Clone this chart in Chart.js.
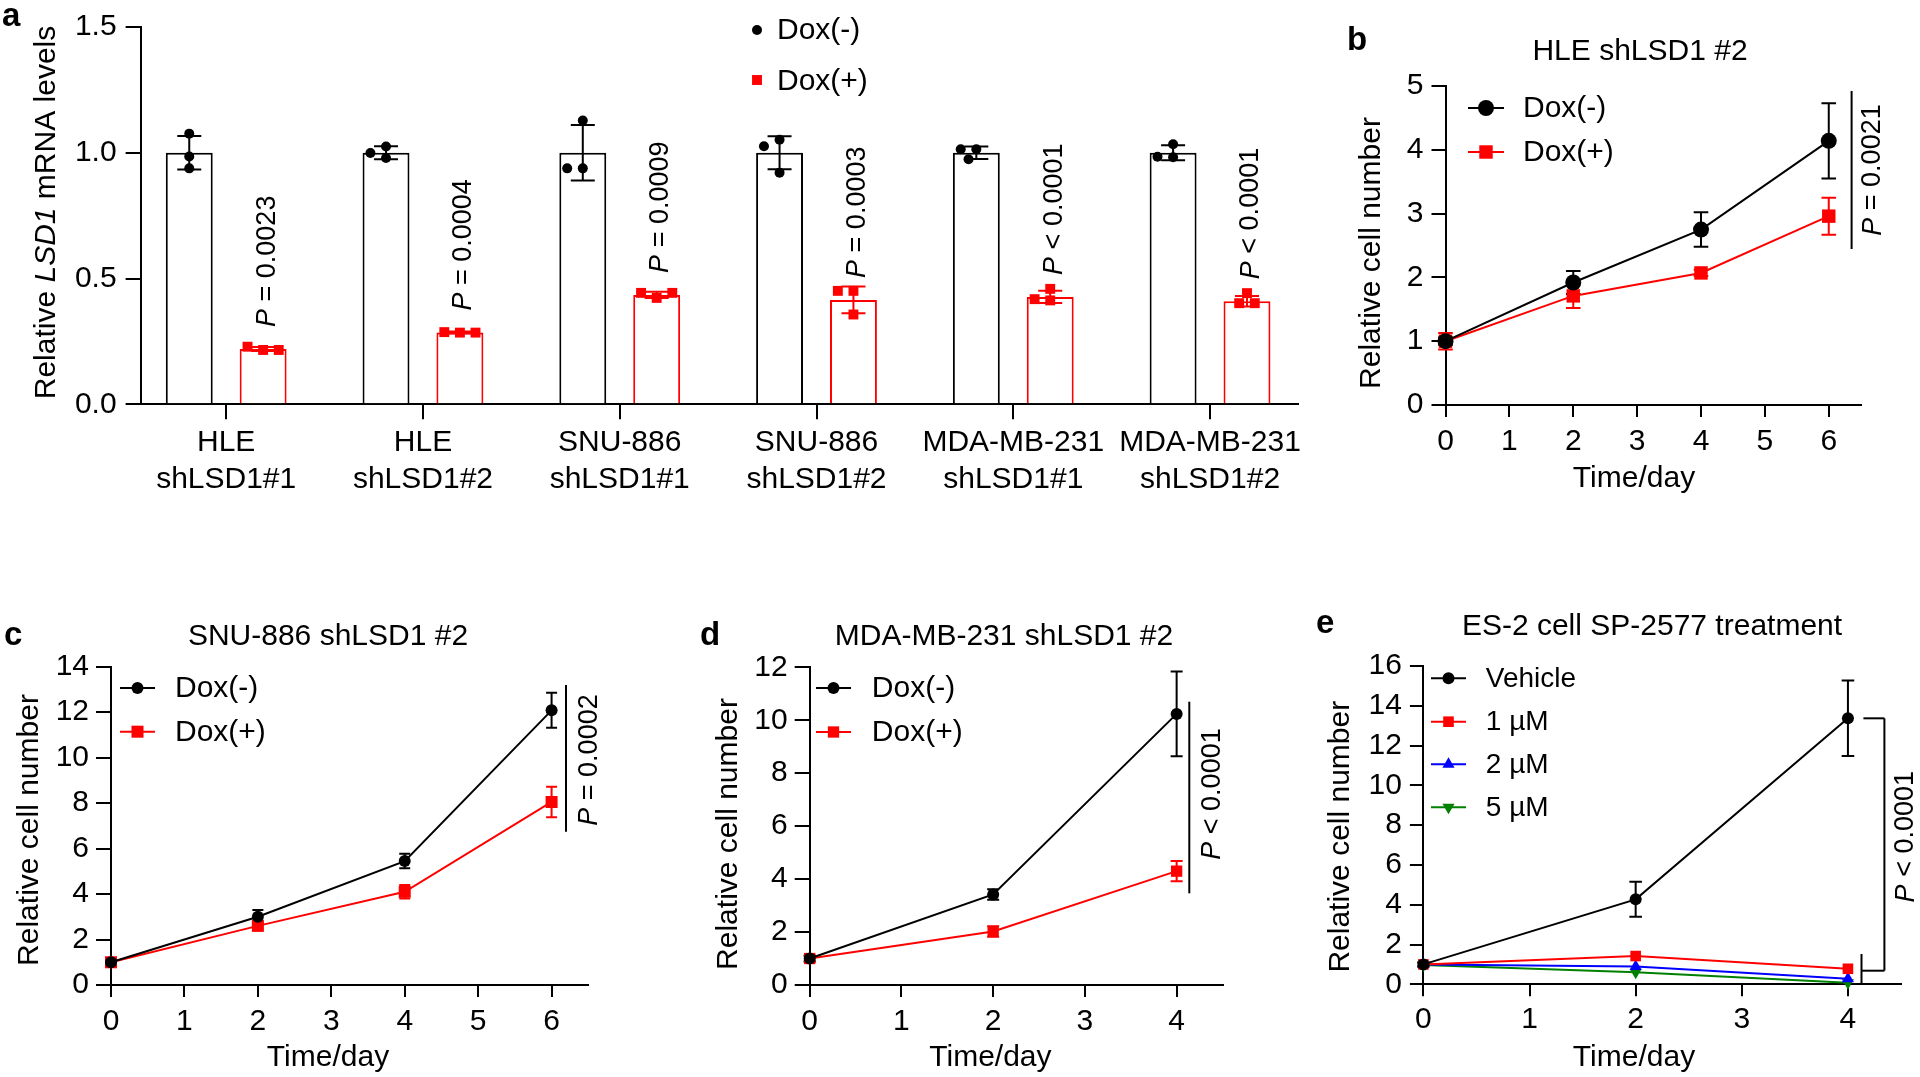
<!DOCTYPE html>
<html>
<head>
<meta charset="utf-8">
<title>LSD1 knockdown panels</title>
<script src="https://cdn.jsdelivr.net/npm/chart.js@4.4.1/dist/chart.umd.min.js"></script>
<style>
  html, body { margin: 0; padding: 0; background: #fff; }
  #page { position: relative; width: 1920px; height: 1077px; overflow: hidden; background: #fff; }
  #page canvas { position: absolute; }
</style>
</head>
<body>
<div id="page">
  <canvas id="chartA"></canvas>
  <canvas id="chartB"></canvas>
  <canvas id="chartC"></canvas>
  <canvas id="chartD"></canvas>
  <canvas id="chartE"></canvas>
</div>
<script>
const FONT = "'Liberation Sans', Arial, Helvetica, sans-serif";

// ---------- a: relative LSD1 mRNA ----------
const cellLines = [['HLE', 'shLSD1#1'], ['HLE', 'shLSD1#2'], ['SNU-886', 'shLSD1#1'],
                   ['SNU-886', 'shLSD1#2'], ['MDA-MB-231', 'shLSD1#1'], ['MDA-MB-231', 'shLSD1#2']];
const mrnaDoxNeg = [1.0, 1.0, 1.0, 1.0, 1.0, 1.0];
const mrnaDoxPos = [0.22, 0.285, 0.435, 0.415, 0.427, 0.41];
const mrnaSdNeg = [0.067, 0.026, 0.11, 0.066, 0.025, 0.03];
const mrnaSdPos = [0.008, 0.004, 0.012, 0.053, 0.024, 0.021];
const repsDoxNeg = [[1.076, 0.985, 0.938], [1.025, 0.979, 0.999], [1.128, 0.938, 0.938],
                    [1.052, 1.026, 0.921], [1.014, 1.014, 0.974], [1.034, 0.982, 0.984]];
const repsDoxPos = [[0.216, 0.229, 0.216], [0.285, 0.287, 0.285], [0.423, 0.443, 0.443],
                    [0.451, 0.451, 0.357], [0.459, 0.413, 0.418], [0.442, 0.402, 0.402]];
const mrnaP = ['= 0.0023', '= 0.0004', '= 0.0009', '= 0.0003', '< 0.0001', '< 0.0001'];

// ---------- b: HLE shLSD1 #2 ----------
const daysB = [0, 2, 4, 6];
const hleNeg = [1.0, 1.92, 2.75, 4.14];
const hleNegSd = [0.06, 0.18, 0.27, 0.59];
const hlePos = [1.0, 1.71, 2.07, 2.96];
const hlePosSd = [0.13, 0.19, 0.05, 0.29];

// ---------- c: SNU-886 shLSD1 #2 ----------
const daysC = [0, 2, 4, 6];
const snuNeg = [1.0, 3.0, 5.45, 12.08];
const snuNegSd = [0.15, 0.3, 0.32, 0.77];
const snuPos = [1.0, 2.6, 4.1, 8.05];
const snuPosSd = [0.1, 0.15, 0.3, 0.67];

// ---------- d: MDA-MB-231 shLSD1 #2 ----------
const daysD = [0, 2, 4];
const mdaNeg = [1.0, 3.42, 10.24];
const mdaNegSd = [0.1, 0.2, 1.6];
const mdaPos = [1.0, 2.02, 4.3];
const mdaPosSd = [0.12, 0.2, 0.38];

// ---------- e: ES-2 SP-2577 ----------
const daysE = [0, 2, 4];
const vehicle = [1.0, 4.27, 13.37];
const vehicleSd = [0.1, 0.88, 1.9];
const dose1 = [1.0, 1.42, 0.78];
const dose2 = [1.0, 0.9, 0.28];
const dose5 = [0.97, 0.6, 0.08];
const doseLabels = ['Vehicle', '1 µM', '2 µM', '5 µM'];

Chart.defaults.font.family = FONT;
Chart.defaults.font.size = 30;
Chart.defaults.color = '#000';

// ---------- helpers ----------
function placeCanvas(id, box) {
  const c = document.getElementById(id);
  c.width = box.w; c.height = box.h;
  c.style.left = box.left + 'px'; c.style.top = box.top + 'px';
  c.style.width = box.w + 'px'; c.style.height = box.h + 'px';
  return c;
}

function drawText(ctx, parts, x, y, o) {
  o = o || {};
  const size = o.size || 30;
  ctx.save();
  ctx.translate(x, y);
  if (o.rotate) ctx.rotate(-Math.PI / 2);
  ctx.fillStyle = '#000';
  ctx.textBaseline = o.baseline || 'alphabetic';
  ctx.textAlign = 'left';
  const fonts = parts.map(p => (p[1] ? 'italic ' : '') + (o.bold ? 'bold ' : '') + size + 'px ' + FONT);
  const widths = parts.map((p, i) => { ctx.font = fonts[i]; return ctx.measureText(p[0]).width; });
  const total = widths.reduce((s, w) => s + w, 0);
  let cx = o.align === 'center' ? -total / 2 : (o.align === 'right' ? -total : 0);
  parts.forEach((p, i) => { ctx.font = fonts[i]; ctx.fillText(p[0], cx, 0); cx += widths[i]; });
  ctx.restore();
}

function seg(ctx, x1, y1, x2, y2, color, w) {
  ctx.save();
  ctx.strokeStyle = color || '#000';
  ctx.lineWidth = w || 2;
  ctx.beginPath(); ctx.moveTo(x1, y1); ctx.lineTo(x2, y2); ctx.stroke();
  ctx.restore();
}

function errorBar(ctx, x, yTop, yBot, half, color) {
  ctx.save();
  ctx.strokeStyle = color; ctx.lineWidth = 2;
  ctx.beginPath();
  ctx.moveTo(x, yTop); ctx.lineTo(x, yBot);
  ctx.moveTo(x - half, yTop); ctx.lineTo(x + half, yTop);
  ctx.moveTo(x - half, yBot); ctx.lineTo(x + half, yBot);
  ctx.stroke();
  ctx.restore();
}

// same geometry as Chart.js point styles
function marker(ctx, style, r, rot, color, x, y) {
  ctx.save();
  ctx.fillStyle = color;
  ctx.beginPath();
  if (style === 'circle') {
    ctx.arc(x, y, r, 0, Math.PI * 2);
  } else if (style === 'rect') {
    const s = r * Math.SQRT1_2;
    ctx.rect(x - s, y - s, 2 * s, 2 * s);
  } else if (style === 'triangle') {
    let rad = (rot || 0) * Math.PI / 180;
    ctx.moveTo(x + Math.sin(rad) * r, y - Math.cos(rad) * r);
    rad += 2 * Math.PI / 3;
    ctx.lineTo(x + Math.sin(rad) * r, y - Math.cos(rad) * r);
    rad += 2 * Math.PI / 3;
    ctx.lineTo(x + Math.sin(rad) * r, y - Math.cos(rad) * r);
    ctx.closePath();
  }
  ctx.fill();
  ctx.restore();
}

// spread replicate dots sideways so they don't sit on each other
function swarm(ys, step, minDist) {
  const placed = [];
  ys.forEach(y => {
    for (let k = 0; k < 20; k++) {
      const off = k === 0 ? 0 : (k % 2 ? -1 : 1) * Math.ceil(k / 2) * step;
      if (placed.every(p => Math.hypot(p.dx - off, p.y - y) >= minDist)) { placed.push({dx: off, y: y}); break; }
    }
  });
  return placed;
}

function blackGrid(len) {
  return { drawOnChartArea: false, drawTicks: true, tickLength: len, color: '#000', lineWidth: 2, offset: false };
}
const blackBorder = { display: true, color: '#000', width: 2 };

function padFor(box, area) {
  return { left: 0, bottom: 0, top: area.top - box.top, right: box.left + box.w - area.right };
}

// ---------- panel a ----------
const boxA = { left: 0, top: 0, w: 1320, h: 540 };
const areaA = { left: 140.6, top: 21.7, right: 1298, bottom: 404.3 };

const decoA = {
  id: 'decoA',
  afterDatasetsDraw(chart) {
    const ctx = chart.ctx, ys = chart.scales.y;
    chart.data.datasets.forEach((ds, di) => {
      chart.getDatasetMeta(di).data.forEach((bar, i) => {
        errorBar(ctx, bar.x, ys.getPixelForValue(ds.data[i] + ds.errors[i]),
                 ys.getPixelForValue(ds.data[i] - ds.errors[i]), 12, ds.borderColor);
        const dots = swarm(ds.reps[i].map(v => ys.getPixelForValue(v)), 7.8, 11);
        dots.forEach(d => marker(ctx, ds.dotStyle, ds.dotRadius, 0, ds.borderColor, bar.x + d.dx, d.y));
        if (di === 1) {
          drawText(ctx, [['P', true], [' ' + mrnaP[i], false]], bar.x + 4, bar.y - 22,
                   { size: 27, rotate: true, baseline: 'middle' });
        }
      });
    });
  },
  afterDraw(chart) {
    const ctx = chart.ctx;
    drawText(ctx, [['a', false]], 2, 25.5, { bold: true, size: 33 });
    drawText(ctx, [['Relative ', false], ['LSD1', true], [' mRNA levels', false]], 47, 212.5,
             { rotate: true, align: 'center', baseline: 'middle' });
    // legend
    marker(ctx, 'circle', 5, 0, '#000', 757, 30);
    marker(ctx, 'rect', 7, 0, '#ff0000', 757, 80);
    drawText(ctx, [['Dox(-)', false]], 777, 31, { baseline: 'middle' });
    drawText(ctx, [['Dox(+)', false]], 777, 82, { baseline: 'middle' });
  }
};

new Chart(placeCanvas('chartA', boxA), {
  type: 'bar',
  data: {
    labels: cellLines.map((c, i) => i),
    datasets: [
      { label: 'Dox(-)', data: mrnaDoxNeg, errors: mrnaSdNeg, reps: repsDoxNeg, dotStyle: 'circle', dotRadius: 5,
        backgroundColor: '#fff', borderColor: '#000', borderWidth: 2, categoryPercentage: 0.751, barPercentage: 0.635 },
      { label: 'Dox(+)', data: mrnaDoxPos, errors: mrnaSdPos, reps: repsDoxPos, dotStyle: 'rect', dotRadius: 7,
        backgroundColor: '#fff', borderColor: '#ff0000', borderWidth: 2, categoryPercentage: 0.751, barPercentage: 0.635 }
    ]
  },
  options: {
    responsive: false, animation: false, events: [],
    layout: { padding: padFor(boxA, areaA), autoPadding: false },
    plugins: { legend: { display: false }, tooltip: { enabled: false } },
    scales: {
      x: {
        type: 'linear', min: -0.435, max: 5.447, offset: false,
        afterBuildTicks: s => { s.ticks = cellLines.map((c, i) => ({ value: i })); },
        ticks: { autoSkip: false, maxRotation: 0, minRotation: 0, padding: 5,
                 font: { size: 30, lineHeight: 1.23 }, callback: v => cellLines[v] },
        grid: blackGrid(15), border: blackBorder,
        afterFit: s => { s.height = boxA.top + boxA.h - areaA.bottom; }
      },
      y: {
        type: 'linear', min: 0, max: 1.5,
        ticks: { stepSize: 0.5, padding: 9, callback: v => v.toFixed(1) },
        grid: blackGrid(15), border: blackBorder,
        afterFit: s => { s.width = areaA.left - boxA.left; }
      }
    }
  },
  plugins: [decoA]
});

// ---------- growth curves ----------
function series(label, data, sd, color, style, r, rot) {
  return { label: label, data: data, errors: sd, borderColor: color, backgroundColor: color,
           borderWidth: 2, pointStyle: style, pointRadius: r, pointHoverRadius: r, pointRotation: rot || 0,
           pointBorderWidth: 0, tension: 0, clip: false };
}

function linePanel(id, box, area, days, datasets, opt) {
  const deco = {
    id: 'deco' + id,
    beforeDatasetsDraw(chart) {
      const ctx = chart.ctx, ys = chart.scales.y;
      chart.data.datasets.forEach((ds, di) => {
        if (!ds.errors) return;
        chart.getDatasetMeta(di).data.forEach((pt, i) => {
          errorBar(ctx, pt.x, ys.getPixelForValue(ds.data[i] + ds.errors[i]),
                   ys.getPixelForValue(ds.data[i] - ds.errors[i]), opt.cap, ds.borderColor);
        });
      });
    },
    afterDraw(chart) {
      const ctx = chart.ctx;
      ctx.save();
      ctx.translate(-box.left, -box.top);
      drawText(ctx, [[opt.letter, false]], opt.letterAt[0], opt.letterAt[1], { bold: true, size: 33 });
      drawText(ctx, [[opt.title, false]], opt.titleAt[0], opt.titleAt[1], { align: 'center' });
      drawText(ctx, [['Time/day', false]], opt.xTitleAt[0], opt.xTitleAt[1], { align: 'center' });
      drawText(ctx, [['Relative cell number', false]], opt.yTitleAt[0], opt.yTitleAt[1],
               { rotate: true, align: 'center', baseline: 'middle' });
      const lg = opt.legend;
      chart.data.datasets.forEach((ds, di) => {
        const ly = lg.ys[di];
        seg(ctx, lg.x1, ly, lg.x2, ly, ds.borderColor, 2);
        marker(ctx, ds.pointStyle, ds.pointRadius, ds.pointRotation, ds.backgroundColor, (lg.x1 + lg.x2) / 2, ly);
        drawText(ctx, [[ds.label, false]], lg.tx, ly + 1, { baseline: 'middle', size: lg.size || 30 });
      });
      opt.pAnnot(ctx, chart, box);
      ctx.restore();
    }
  };
  return new Chart(placeCanvas(id, box), {
    type: 'line',
    data: { labels: days, datasets: datasets },
    options: {
      responsive: false, animation: false, events: [],
      layout: { padding: padFor(box, area), autoPadding: false },
      plugins: { legend: { display: false }, tooltip: { enabled: false } },
      scales: {
        x: {
          type: 'linear', min: 0, max: opt.xMax, offset: false,
          afterBuildTicks: s => { s.ticks = s.ticks.filter(t => Number.isInteger(t.value)); },
          ticks: { stepSize: 1, includeBounds: false, autoSkip: false, maxRotation: 0, padding: opt.xPad },
          grid: blackGrid(12), border: blackBorder,
          afterFit: s => { s.height = box.top + box.h - area.bottom; }
        },
        y: {
          type: 'linear', min: 0, max: opt.yMax,
          ticks: { stepSize: opt.yStep, padding: opt.yPad },
          grid: blackGrid(opt.yTick), border: blackBorder,
          afterFit: s => { s.width = area.left - box.left; }
        }
      }
    },
    plugins: [deco]
  });
}

// b
linePanel('chartB', { left: 1320, top: 0, w: 600, h: 540 }, { left: 1445.5, top: 86, right: 1860.7, bottom: 405 }, daysB, [
  series('Dox(-)', hleNeg, hleNegSd, '#000', 'circle', 8),
  series('Dox(+)', hlePos, hlePosSd, '#ff0000', 'rect', 9.5)
], {
  xMax: 6.5, yMax: 5, yStep: 1, xPad: 7, yPad: 8, yTick: 14, cap: 7.3,
  letter: 'b', letterAt: [1347, 50], title: 'HLE shLSD1 #2', titleAt: [1640, 59.5],
  xTitleAt: [1634, 486.5], yTitleAt: [1372, 253],
  legend: { x1: 1468, x2: 1504, tx: 1523, ys: [108, 152] },
  pAnnot: function (ctx) {
    seg(ctx, 1851.6, 91, 1851.6, 249);
    drawText(ctx, [['P', true], [' = 0.0021', false]], 1873, 170, { size: 27, rotate: true, align: 'center', baseline: 'middle' });
  }
});

// c
linePanel('chartC', { left: 0, top: 560, w: 640, h: 517 }, { left: 111, top: 666.7, right: 588.3, bottom: 985 }, daysC, [
  series('Dox(-)', snuNeg, snuNegSd, '#000', 'circle', 6),
  series('Dox(+)', snuPos, snuPosSd, '#ff0000', 'rect', 8.5)
], {
  xMax: 6.5, yMax: 14, yStep: 2, xPad: 6.5, yPad: 7, yTick: 15, cap: 5.5,
  letter: 'c', letterAt: [4, 645], title: 'SNU-886 shLSD1 #2', titleAt: [328, 645],
  xTitleAt: [328, 1066], yTitleAt: [29.6, 830],
  legend: { x1: 120, x2: 155, tx: 175, ys: [688, 731.7] },
  pAnnot: function (ctx) {
    seg(ctx, 566, 685, 566, 831.7);
    drawText(ctx, [['P', true], [' = 0.0002', false]], 589.6, 760, { size: 27, rotate: true, align: 'center', baseline: 'middle' });
  }
});

// d
linePanel('chartD', { left: 660, top: 560, w: 620, h: 517 }, { left: 809.7, top: 667.3, right: 1222.5, bottom: 985 }, daysD, [
  series('Dox(-)', mdaNeg, mdaNegSd, '#000', 'circle', 6),
  series('Dox(+)', mdaPos, mdaPosSd, '#ff0000', 'rect', 8)
], {
  xMax: 4.5, yMax: 12, yStep: 2, xPad: 6.5, yPad: 7, yTick: 15, cap: 6,
  letter: 'd', letterAt: [700, 645], title: 'MDA-MB-231 shLSD1 #2', titleAt: [1004, 645],
  xTitleAt: [990.4, 1066], yTitleAt: [728.5, 834],
  legend: { x1: 816, x2: 851, tx: 871.8, ys: [688, 732] },
  pAnnot: function (ctx) {
    seg(ctx, 1189.3, 701.7, 1189.3, 893.3);
    drawText(ctx, [['P', true], [' < 0.0001', false]], 1212.9, 794, { size: 27, rotate: true, align: 'center', baseline: 'middle' });
  }
});

// e
linePanel('chartE', { left: 1290, top: 560, w: 630, h: 517 }, { left: 1423.4, top: 666, right: 1901, bottom: 984.3 }, daysE, [
  series(doseLabels[0], vehicle, vehicleSd, '#000', 'circle', 6),
  series(doseLabels[1], dose1, null, '#ff0000', 'rect', 7.5),
  series(doseLabels[2], dose2, null, '#0000ff', 'triangle', 7),
  series(doseLabels[3], dose5, null, '#008000', 'triangle', 7, 180)
], {
  xMax: 4.5, yMax: 16, yStep: 2, xPad: 5, yPad: 8, yTick: 13.5, cap: 6.3,
  letter: 'e', letterAt: [1316, 633], title: 'ES-2 cell SP-2577 treatment', titleAt: [1652, 635],
  xTitleAt: [1634, 1066], yTitleAt: [1340.5, 836.7],
  legend: { x1: 1431, x2: 1466, tx: 1485.8, ys: [678.3, 721.7, 764.3, 807.3], size: 28 },
  pAnnot: function (ctx, chart, box) {
    const top = chart.scales.y.getPixelForValue(vehicle[vehicle.length - 1]) + box.top;
    seg(ctx, 1863.4, top, 1884.4, top);
    seg(ctx, 1884.4, top, 1884.4, 970.7);
    seg(ctx, 1861.5, 970.7, 1884.4, 970.7);
    seg(ctx, 1861.5, 954, 1861.5, 983.3);
    drawText(ctx, [['P', true], [' < 0.0001', false]], 1906, 836.7, { size: 27, rotate: true, align: 'center', baseline: 'middle' });
  }
});
</script>
</body>
</html>
